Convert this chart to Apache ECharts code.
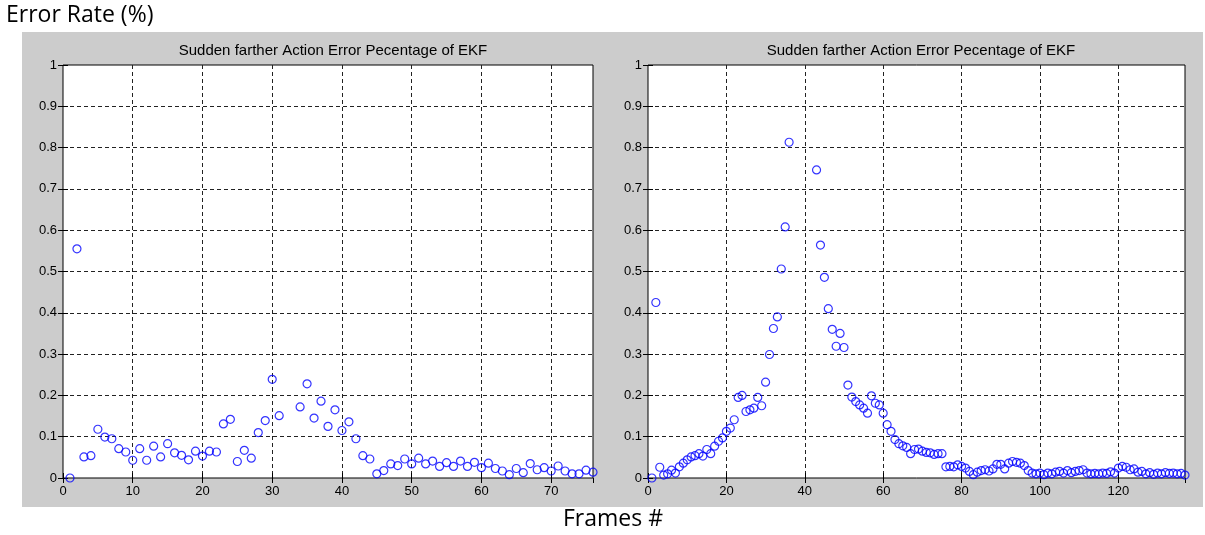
<!DOCTYPE html>
<html lang="en">
<head>
    <meta charset="utf-8" />
    <title>EKF error rate</title>
    <script src="https://cdn.jsdelivr.net/npm/echarts@6/dist/echarts.min.js"></script>
</head>
<body style="margin:0;background:#fff">
    <div id="chart" style="width:1205px;height:535px"></div>
    <script>
    // left panel: frames 32,33 are missing in the source plot
    let leftFrames = [1, 2, 3, 4, 5, 6, 7, 8, 9, 10, 11, 12, 13, 14, 15, 16, 17, 18, 19, 20,
        21, 22, 23, 24, 25, 26, 27, 28, 29, 30, 31, 34, 35, 36, 37, 38, 39, 40, 41, 42,
        43, 44, 45, 46, 47, 48, 49, 50, 51, 52, 53, 54, 55, 56, 57, 58, 59, 60, 61, 62,
        63, 64, 65, 66, 67, 68, 69, 70, 71, 72, 73, 74, 75, 76]
    let leftError = [0.000, 0.555, 0.051, 0.054, 0.118, 0.099, 0.095, 0.071, 0.063, 0.043,
        0.071, 0.043, 0.077, 0.051, 0.083, 0.061, 0.055, 0.044, 0.065, 0.053,
        0.065, 0.063, 0.131, 0.142, 0.040, 0.067, 0.048, 0.110, 0.139, 0.239, 0.151,
        0.172, 0.228, 0.145, 0.186, 0.125, 0.165, 0.115, 0.136, 0.095,
        0.054, 0.046, 0.010, 0.018, 0.034, 0.030, 0.046, 0.034, 0.048, 0.034,
        0.041, 0.028, 0.037, 0.028, 0.041, 0.028, 0.038, 0.025, 0.036, 0.023,
        0.017, 0.008, 0.023, 0.013, 0.035, 0.020, 0.025, 0.017, 0.029, 0.017,
        0.010, 0.010, 0.019, 0.014]

    // right panel: frames 37..42 are missing
    let rightFrames = [1, 2, 3, 4, 5, 6, 7, 8, 9, 10, 11, 12, 13, 14, 15, 16, 17, 18, 19, 20,
        21, 22, 23, 24, 25, 26, 27, 28, 29, 30, 31, 32, 33, 34, 35, 36,
        43, 44, 45, 46, 47, 48, 49, 50, 51, 52, 53, 54, 55, 56, 57, 58, 59, 60,
        61, 62, 63, 64, 65, 66, 67, 68, 69, 70, 71, 72, 73, 74, 75, 76, 77, 78, 79, 80,
        81, 82, 83, 84, 85, 86, 87, 88, 89, 90, 91, 92, 93, 94, 95, 96, 97, 98, 99, 100,
        101, 102, 103, 104, 105, 106, 107, 108, 109, 110, 111, 112, 113, 114, 115, 116, 117, 118, 119, 120,
        121, 122, 123, 124, 125, 126, 127, 128, 129, 130, 131, 132, 133, 134, 135, 136, 137]
    let rightError = [0.000, 0.425, 0.026, 0.007, 0.010, 0.019, 0.012, 0.027, 0.036, 0.044,
        0.051, 0.054, 0.059, 0.053, 0.069, 0.059, 0.077, 0.089, 0.097, 0.113,
        0.121, 0.141, 0.195, 0.200, 0.161, 0.165, 0.169, 0.195, 0.175, 0.232,
        0.299, 0.362, 0.390, 0.506, 0.608, 0.813,
        0.746, 0.564, 0.486, 0.410, 0.360, 0.319, 0.350, 0.316,
        0.225, 0.196, 0.185, 0.177, 0.169, 0.157, 0.199, 0.181, 0.177, 0.157,
        0.129, 0.113, 0.093, 0.083, 0.078, 0.074, 0.059, 0.069, 0.070, 0.065,
        0.062, 0.061, 0.057, 0.059, 0.059, 0.027, 0.028, 0.027, 0.032, 0.028,
        0.024, 0.016, 0.008, 0.014, 0.018, 0.020, 0.017, 0.022, 0.033, 0.033,
        0.022, 0.036, 0.040, 0.038, 0.036, 0.030, 0.018, 0.012, 0.010, 0.012,
        0.008, 0.012, 0.010, 0.014, 0.016, 0.012, 0.018, 0.013, 0.016, 0.018,
        0.020, 0.012, 0.010, 0.011, 0.010, 0.012, 0.011, 0.015, 0.012, 0.024,
        0.028, 0.026, 0.020, 0.022, 0.014, 0.016, 0.010, 0.013, 0.009, 0.012,
        0.010, 0.013, 0.011, 0.012, 0.010, 0.011, 0.007]

    let plotTitle = 'Sudden farther Action Error Pecentage of EKF'
    let yTicks = [0, 0.1, 0.2, 0.3, 0.4, 0.5, 0.6, 0.7, 0.8, 0.9, 1]

    let chart = echarts.init(document.getElementById('chart'))

    let tickFont = { fontFamily: 'Liberation Sans', fontSize: 13, color: '#000' }
    let gridLine = { show: true, lineStyle: { color: '#222', width: 1, type: [4, 3] }, showMinLine: false, showMaxLine: false }

    function xAxisOf(gridIndex, max, interval, top) {
        return {
            type: 'value', gridIndex: gridIndex, min: 0, max: max, interval: interval,
            position: top ? 'top' : 'bottom',
            axisLine: { show: false },
            axisTick: { show: true, inside: true, length: 5, lineStyle: { color: '#000' } },
            axisLabel: top ? { show: false } : Object.assign({ margin: 7, showMaxLabel: false }, tickFont),
            splitLine: top ? { show: false } : gridLine
        }
    }

    function yAxisOf(gridIndex, right) {
        return {
            type: 'value', gridIndex: gridIndex, min: 0, max: 1, interval: 0.1,
            position: right ? 'right' : 'left',
            axisLine: { show: false },
            axisTick: { show: true, inside: true, length: 5, lineStyle: { color: '#000' } },
            axisLabel: right ? { show: false } : Object.assign({
                margin: 6,
                formatter: v => String(yTicks[Math.round(v * 10)])
            }, tickFont),
            splitLine: right ? { show: false } : gridLine
        }
    }

    let markerStyle = { color: 'rgba(0,0,0,0)', borderColor: '#0000ff', borderWidth: 1.2 }
    let titleFont = { fontFamily: 'Liberation Sans', fontSize: 15, fontWeight: 'normal', color: '#000' }

    chart.setOption({
        animation: false,
        graphic: [
            { type: 'rect', z: -10, shape: { x: 22, y: 32, width: 1181, height: 475 }, style: { fill: '#cccccc' } },
            { type: 'text', left: 6, top: 4, style: { text: 'Error Rate (%)', font: '23px "Open Sans"', fill: '#000' } },
            { type: 'text', left: 563, top: 508, style: { text: 'Frames #', font: '23px "Open Sans"', fill: '#000' } }
        ],
        title: [
            { text: plotTitle, left: 328, top: 38, textAlign: 'center', textStyle: titleFont },
            { text: plotTitle, left: 916, top: 38, textAlign: 'center', textStyle: titleFont }
        ],
        grid: [
            { left: 63, top: 65, width: 530, height: 413, show: true, backgroundColor: '#fff', borderColor: '#000', borderWidth: 1 },
            { left: 648, top: 65, width: 537, height: 413, show: true, backgroundColor: '#fff', borderColor: '#000', borderWidth: 1 }
        ],
        xAxis: [
            xAxisOf(0, 76, 10, false), xAxisOf(0, 76, 10, true),
            xAxisOf(1, 137, 20, false), xAxisOf(1, 137, 20, true)
        ],
        yAxis: [
            yAxisOf(0, false), yAxisOf(0, true),
            yAxisOf(1, false), yAxisOf(1, true)
        ],
        series: [{
            type: 'scatter', xAxisIndex: 0, yAxisIndex: 0,
            symbol: 'circle', symbolSize: 8, itemStyle: markerStyle,
            data: leftFrames.map((f, i) => [f, leftError[i]])
        }, {
            type: 'scatter', xAxisIndex: 2, yAxisIndex: 2,
            symbol: 'circle', symbolSize: 8, itemStyle: markerStyle,
            data: rightFrames.map((f, i) => [f, rightError[i]])
        }]
    })
    </script>
</body>
</html>
